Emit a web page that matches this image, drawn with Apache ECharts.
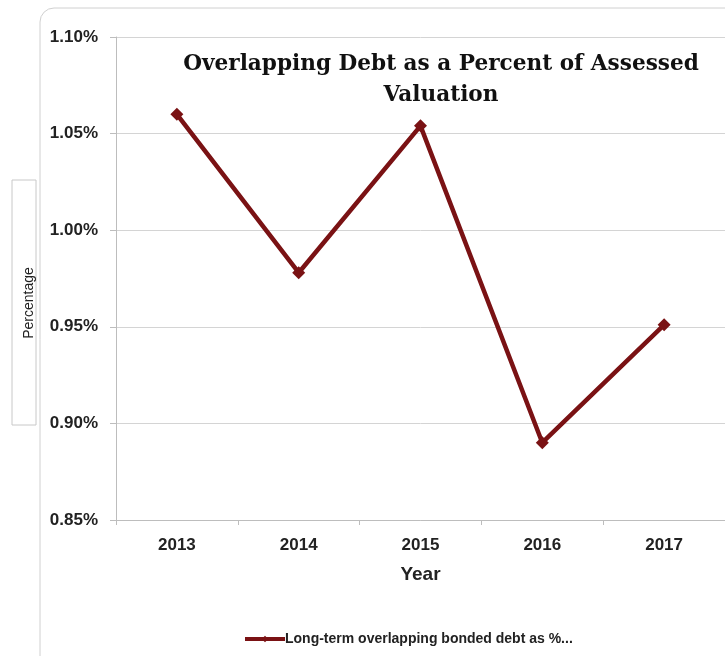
<!DOCTYPE html>
<html>
<head>
<meta charset="utf-8">
<script src="https://cdn.jsdelivr.net/npm/echarts@6/dist/echarts.min.js"></script>
<style>
  html, body { margin: 0; padding: 0; background: #fff; }
  #chart { width: 725px; height: 656px; }
</style>
</head>
<body>
<div id="chart"></div>
<script>
var years = ['2013', '2014', '2015', '2016', '2017'];
var debtPct = [1.060, 0.978, 1.054, 0.890, 0.951];
var yTicks = { min: 0.85, max: 1.10, step: 0.05 };

var chart = echarts.init(document.getElementById('chart'));
var lineColor = '#7a1214';
var legendName = 'Long-term overlapping bonded debt as %...';

chart.setOption({
  animation: false,
  backgroundColor: '#fff',
  title: {
    text: 'Overlapping Debt as a Percent of Assessed\nValuation',
    left: 436,
    top: 44,
    textAlign: 'center',
    textStyle: {
      fontFamily: 'DejaVu Serif',
      fontWeight: 'bold',
      fontSize: 21.6,
      lineHeight: 31,
      color: '#111'
    }
  },
  graphic: [
    {
      type: 'rect',
      shape: { x: 40, y: 8, width: 720, height: 680, r: 14 },
      style: { fill: 'none', stroke: '#d0d0d0', lineWidth: 1 },
      silent: true
    },
    {
      type: 'rect',
      shape: { x: 12, y: 180, width: 24, height: 245 },
      style: { fill: '#fff', stroke: '#c8c8c8', lineWidth: 1 },
      silent: true
    },
    {
      type: 'text',
      x: 29,
      y: 303,
      rotation: Math.PI / 2,
      style: {
        text: 'Percentage',
        fontFamily: 'Liberation Sans',
        fontSize: 14,
        fill: '#222',
        align: 'center',
        verticalAlign: 'middle'
      },
      silent: true
    }
  ],
  legend: {
    bottom: 10,
    left: 243,
    padding: 0,
    itemWidth: 40,
    itemHeight: 8,
    itemGap: 2,
    lineStyle: { color: lineColor, width: 4 },
    textStyle: {
      fontFamily: 'Liberation Sans',
      fontWeight: 'bold',
      fontSize: 14,
      color: '#222',
      padding: [0, 0, 0, -5]
    },
    data: [{ name: legendName }]
  },
  grid: {
    left: 116,
    top: 37,
    width: 615,
    height: 483,
    containLabel: false
  },
  xAxis: {
    type: 'category',
    data: years,
    boundaryGap: true,
    name: 'Year',
    nameLocation: 'middle',
    nameGap: 45,
    nameTextStyle: {
      fontFamily: 'Liberation Sans',
      fontWeight: 'bold',
      fontSize: 19,
      color: '#222'
    },
    axisLine: { lineStyle: { color: '#bdbdbd', width: 1 } },
    axisTick: { show: true, length: 5, lineStyle: { color: '#bdbdbd' } },
    axisLabel: {
      margin: 17,
      fontFamily: 'Liberation Sans',
      fontWeight: 'bold',
      fontSize: 17,
      color: '#222'
    },
    splitLine: { show: false }
  },
  yAxis: {
    type: 'value',
    min: yTicks.min,
    max: yTicks.max,
    interval: yTicks.step,
    axisLine: { show: true, lineStyle: { color: '#bdbdbd', width: 1 } },
    axisTick: { show: true, length: 6, lineStyle: { color: '#bdbdbd' } },
    axisLabel: {
      margin: 18,
      fontFamily: 'Liberation Sans',
      fontWeight: 'bold',
      fontSize: 17,
      color: '#222',
      formatter: function (v) { return v.toFixed(2) + '%'; }
    },
    splitLine: { show: true, lineStyle: { color: '#d4d4d4', width: 1 } }
  },
  series: [
    {
      name: legendName,
      type: 'line',
      data: debtPct,
      symbol: 'diamond',
      symbolSize: 13,
      lineStyle: { color: lineColor, width: 4.5 },
      itemStyle: { color: lineColor },
      z: 5
    }
  ]
});
</script>
</body>
</html>
